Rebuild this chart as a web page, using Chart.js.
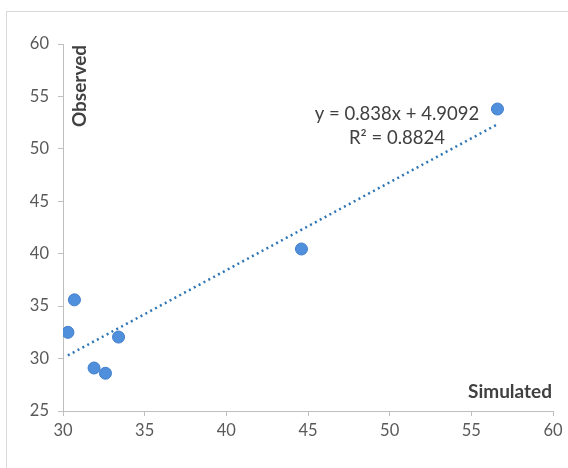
<!DOCTYPE html>
<html>
<head>
<meta charset="utf-8">
<script src="https://cdn.jsdelivr.net/npm/chart.js@4"></script>
<style>
  html, body { margin: 0; padding: 0; background: #fff; }
  #wrap { width: 568px; height: 468px; }
</style>
</head>
<body>
<div id="wrap"><canvas id="chart" width="568" height="468"></canvas></div>
<script>
// Simulated vs observed values
const simulated = [30.3, 30.7, 31.9, 32.6, 33.4, 44.6, 56.6];
const observed = [32.5, 35.6, 29.1, 28.6, 32.05, 40.45, 53.8];

// Linear trendline (from the equation shown on the chart)
const slope = 0.838;
const intercept = 4.9092;
const equationText = ['y = 0.838x + 4.9092', 'R\u00b2 = 0.8824'];

const xTicks = [30, 35, 40, 45, 50, 55, 60];
const yTicks = [25, 30, 35, 40, 45, 50, 55, 60];

const points = simulated.map((x, i) => ({ x: x, y: observed[i] }));
const xMin = Math.min(...simulated);
const xMax = Math.max(...simulated);
const trend = [xMin, xMax].map(x => ({ x: x, y: slope * x + intercept }));

const FONT = 'Lato, "Open Sans", sans-serif';

// Outer frame, axis titles and equation label
const decor = {
  id: 'decor',
  beforeDraw(chart) {
    const c = chart.ctx;
    c.save();
    c.strokeStyle = '#d9d9d9';
    c.lineWidth = 1;
    c.strokeRect(6.5, 11.5, 600, 500);
    c.restore();
  },
  afterDraw(chart) {
    const c = chart.ctx;
    const xs = chart.scales.x, ys = chart.scales.y;
    c.save();
    c.fillStyle = '#404040';
    c.font = 'bold 19px ' + FONT;
    c.textBaseline = 'middle';
    // Simulated
    c.textAlign = 'right';
    c.fillText('Simulated', xs.right - 1, 392);
    // Observed (rotated)
    c.translate(80, ys.top + 42);
    c.rotate(-Math.PI / 2);
    c.textAlign = 'center';
    c.fillText('Observed', 0, 0);
    c.restore();

    c.save();
    c.fillStyle = '#404040';
    c.font = '18.5px ' + FONT;
    c.textAlign = 'center';
    c.textBaseline = 'middle';
    c.fillText(equationText[0], 397, 114);
    c.fillText(equationText[1], 397, 138);
    c.restore();
  }
};

new Chart(document.getElementById('chart'), {
  type: 'scatter',
  data: {
    datasets: [{
      label: 'Observed',
      data: points,
      backgroundColor: '#4f8fdc',
      borderColor: '#3f7dcc',
      borderWidth: 1,
      pointRadius: 6,
      order: 1
    }, {
      label: 'Linear',
      type: 'line',
      data: trend,
      borderColor: '#2e75b6',
      borderWidth: 2.5,
      borderDash: [2, 3.5],
      pointRadius: 0,
      fill: false,
      order: 2
    }]
  },
  options: {
    responsive: false,
    animation: false,
    layout: { padding: { top: 44, right: 15, left: 0, bottom: 0 } },
    plugins: {
      legend: { display: false },
      tooltip: { enabled: false }
    },
    scales: {
      x: {
        type: 'linear',
        min: 30,
        max: 60,
        afterBuildTicks: s => { s.ticks = xTicks.map(v => ({ value: v })); },
        afterFit: s => { s.height = 57; },
        grid: { drawOnChartArea: false, drawTicks: true, tickLength: 5, color: '#bfbfbf' },
        border: { color: '#bfbfbf' },
        ticks: { color: '#595959', font: { family: FONT, size: 16.5 }, padding: 5, maxRotation: 0 }
      },
      y: {
        type: 'linear',
        min: 25,
        max: 60,
        afterBuildTicks: s => { s.ticks = yTicks.map(v => ({ value: v })); },
        afterFit: s => { s.width = 63; },
        grid: { drawOnChartArea: false, drawTicks: true, tickLength: 5, color: '#bfbfbf' },
        border: { color: '#bfbfbf' },
        ticks: { color: '#595959', font: { family: FONT, size: 16.5 }, padding: 9 }
      }
    }
  },
  plugins: [decor]
});
</script>
</body>
</html>
